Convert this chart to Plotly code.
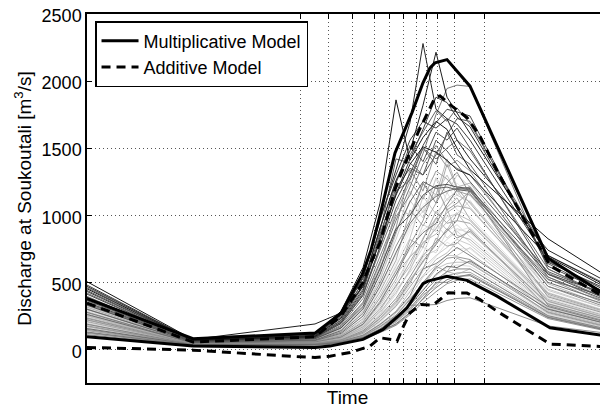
import plotly.graph_objects as go

# ---------------- data ----------------
# common time grid of the ensemble members (time units along the axis)
time_grid = [0, 106, 228, 254, 276, 293, 309, 323, 336, 349, 360, 370, 383, 461, 521]

# ensemble members: discharge [m3/s] at each time of time_grid
ensemble = [
    [505, 74, 112, 285, 610, 1090, 1860, 1410, 1580, 1700, 1640, 1500, 1340, 825, 540],
    [470, 70, 102, 255, 530, 960, 1340, 1690, 2280, 1790, 1720, 1560, 1420, 740, 500],
    [452, 68, 96, 232, 478, 905, 1260, 1480, 1820, 2215, 1880, 1760, 1610, 700, 470],
    [432, 66, 91, 205, 436, 826, 1160, 1420, 1640, 1880, 1840, 1730, 1660, 650, 445],
    [412, 63, 87, 192, 402, 770, 1110, 1310, 1520, 1690, 1790, 1770, 1740, 620, 420],
    [396, 61, 82, 172, 352, 655, 960, 1210, 1460, 1750, 1945, 1970, 1960, 600, 380],
    [388, 75, 190, 272, 468, 805, 1150, 1380, 1510, 1470, 1410, 1340, 1300, 690, 455],
    [365, 62, 98, 240, 505, 880, 1420, 1390, 1300, 1560, 1480, 1380, 1250, 580, 400],
    [350, 60, 92, 215, 450, 840, 1240, 1520, 1400, 1620, 1560, 1650, 1500, 560, 370],
    [342, 58, 88, 200, 420, 760, 1180, 1260, 1500, 1380, 1620, 1450, 1380, 540, 360],
    [300, 52, 70, 140, 300, 560, 880, 1100, 1250, 1200, 1210, 1190, 1180, 520, 390],
    [330, 55, 80, 160, 320, 600, 900, 1000, 1150, 1220, 1230, 1210, 1200, 560, 410],
    [260, 50, 66, 120, 250, 470, 720, 940, 1060, 1140, 1180, 1200, 1190, 500, 350],
    [372, 58, 78, 158, 338, 610, 905, 1340, 1180, 1480, 1360, 1410, 1330, 525, 335],
    [355, 57, 74, 148, 310, 575, 1060, 1000, 1230, 1150, 1420, 1210, 1240, 490, 320],
    [345, 55, 72, 136, 286, 530, 820, 1110, 980, 1280, 1160, 1300, 1210, 440, 300],
    [335, 54, 69, 128, 268, 495, 770, 960, 1240, 1090, 1240, 1320, 1160, 470, 310],
    [322, 52, 66, 118, 246, 462, 730, 920, 1030, 1270, 1110, 1150, 1220, 425, 285],
    [315, 51, 64, 112, 228, 430, 665, 1040, 920, 1090, 1380, 1200, 1090, 410, 275],
    [305, 50, 62, 106, 214, 405, 620, 830, 1140, 1010, 1120, 1180, 1060, 400, 268],
    [298, 49, 60, 102, 204, 385, 585, 780, 960, 1220, 1040, 1090, 1180, 392, 262],
    [288, 48, 58, 97, 192, 360, 600, 740, 890, 960, 1170, 1040, 990, 382, 252],
    [280, 47, 57, 93, 184, 338, 525, 820, 760, 980, 1060, 1130, 970, 372, 245],
    [272, 46, 55, 89, 176, 322, 500, 690, 930, 880, 990, 1010, 1110, 365, 238],
    [264, 45, 53, 85, 168, 305, 470, 650, 820, 1030, 940, 960, 940, 358, 232],
    [256, 44, 51, 81, 160, 290, 452, 700, 770, 910, 1000, 880, 910, 350, 225],
    [248, 44, 50, 78, 152, 276, 425, 590, 800, 860, 950, 1020, 890, 342, 218],
    [240, 43, 48, 75, 146, 262, 445, 575, 710, 940, 830, 900, 870, 336, 212],
    [232, 42, 47, 72, 139, 250, 380, 540, 700, 800, 880, 960, 1200, 328, 206],
    [224, 41, 46, 70, 132, 236, 362, 520, 650, 790, 1050, 850, 820, 320, 200],
    [216, 41, 45, 68, 126, 222, 340, 485, 690, 740, 820, 880, 800, 312, 195],
    [208, 40, 44, 66, 120, 212, 322, 465, 600, 830, 770, 790, 900, 305, 190],
    [200, 39, 43, 64, 114, 200, 320, 440, 580, 690, 800, 750, 750, 298, 184],
    [192, 39, 42, 62, 108, 190, 285, 430, 550, 670, 720, 800, 720, 290, 178],
    [184, 38, 41, 60, 104, 180, 270, 392, 540, 630, 700, 700, 760, 282, 172],
    [176, 37, 40, 58, 100, 172, 256, 370, 500, 610, 680, 690, 670, 275, 166],
    [168, 36, 39, 56, 96, 164, 242, 350, 470, 600, 640, 650, 650, 268, 160],
    [160, 35, 38, 54, 92, 156, 230, 330, 450, 550, 610, 630, 620, 260, 155],
    [150, 34, 36, 52, 88, 148, 216, 310, 420, 520, 580, 600, 600, 252, 150],
    [140, 33, 35, 50, 84, 140, 204, 292, 400, 490, 550, 570, 575, 245, 145],
    [130, 32, 34, 48, 80, 132, 192, 275, 375, 460, 520, 545, 550, 238, 140],
    [120, 31, 33, 46, 76, 125, 180, 258, 350, 430, 490, 515, 525, 230, 135],
    [110, 30, 32, 44, 72, 150, 250, 330, 330, 335, 365, 380, 385, 175, 120],
    [480, 72, 105, 260, 540, 980, 1300, 1560, 1700, 1650, 1720, 1680, 1560, 660, 430],
    [440, 67, 93, 220, 470, 860, 1200, 1350, 1300, 1450, 1600, 1720, 1700, 640, 410],
    [420, 64, 88, 196, 410, 740, 1050, 1280, 1500, 1420, 1500, 1560, 1480, 600, 395],
    [380, 60, 84, 180, 380, 700, 990, 1150, 1380, 1520, 1400, 1350, 1300, 570, 375],
    [362, 58, 80, 166, 344, 640, 1020, 1250, 1120, 1330, 1270, 1180, 1150, 540, 350],
    [326, 53, 70, 130, 276, 520, 860, 1180, 1020, 1160, 1300, 1150, 1100, 450, 300],
    [310, 51, 65, 110, 236, 448, 700, 900, 1200, 1310, 1200, 1240, 1150, 415, 280],
    [294, 49, 61, 100, 200, 380, 640, 880, 1080, 1150, 1230, 1100, 1050, 395, 260],
    [276, 47, 56, 92, 188, 350, 560, 760, 870, 940, 1080, 1190, 1210, 470, 330],
    [252, 45, 52, 80, 156, 290, 480, 620, 830, 980, 890, 1010, 960, 360, 230],
    [236, 43, 48, 73, 142, 260, 410, 600, 760, 720, 880, 930, 840, 332, 212],
    [220, 41, 45, 69, 128, 230, 350, 500, 660, 780, 900, 830, 880, 340, 220],
    [204, 40, 44, 65, 118, 208, 330, 520, 610, 700, 760, 820, 780, 300, 186],
    [188, 38, 41, 61, 106, 186, 280, 400, 600, 640, 700, 760, 700, 320, 200],
    [172, 37, 40, 57, 98, 168, 250, 380, 480, 620, 580, 680, 640, 280, 170],
    [156, 35, 37, 53, 90, 152, 222, 330, 440, 560, 620, 610, 660, 300, 190],
    [144, 33, 36, 51, 86, 144, 210, 300, 410, 470, 580, 560, 600, 250, 150],
    [126, 32, 34, 47, 78, 128, 186, 270, 380, 500, 500, 540, 560, 240, 142],
    [460, 69, 100, 245, 500, 900, 1250, 1450, 1620, 1780, 1700, 1800, 1680, 700, 480],
    [236, 50, 60, 95, 190, 360, 560, 690, 790, 900, 1020, 1070, 1050, 420, 280],
]
# grey level of each member (0 = black, 255 = white)
ensemble_grey = [20, 40, 30, 60, 70, 120, 30, 90, 80, 100, 100, 80, 110,
                 150, 185, 205, 140, 220, 170, 200, 155, 225, 175, 210, 165,
                 230, 190, 215, 145, 180, 212, 168, 228, 188, 207, 152, 196,
                 220, 136, 164, 122, 150, 140,
                 60, 90, 110, 130, 160, 200, 235, 240, 125, 185, 218, 150,
                 205, 130, 170, 110, 190, 140, 100, 175]

# bounds of the two models
mult_upper_t = [0, 106, 228, 254, 275, 284, 293, 302, 308, 325, 336, 343, 348, 360, 383, 461, 521]
mult_upper_q = [378, 80, 122, 270, 555, 740, 1000, 1266, 1465, 1765, 1987, 2098, 2136, 2160, 1962, 680, 395]

mult_lower_t = [0, 106, 228, 243, 276, 296, 310, 320, 336, 341, 360, 380, 410, 463, 521]
mult_lower_q = [95, 25, 14, 25, 75, 149, 240, 310, 490, 509, 546, 515, 397, 161, 100]

add_upper_t = [0, 106, 228, 254, 276, 281, 293, 308, 313, 331, 348, 353, 365, 380, 393, 411, 463, 521]
add_upper_q = [345, 55, 95, 250, 500, 596, 797, 1192, 1291, 1616, 1877, 1890, 1813, 1729, 1589, 1318, 625, 375]

add_lower_t = [0, 106, 213, 228, 243, 263, 283, 293, 305, 310, 315, 323, 334, 346, 353, 361, 380, 393, 410, 463, 521]
add_lower_q = [15, -5, -55, -60, -50, -23, 25, 87, 74, 60, 150, 273, 335, 330, 372, 422, 420, 372, 285, 40, 20]

x_tick_times = [213.5, 241, 265, 287, 302, 316, 329, 339, 350, 367, 397]
y_tick_values = [0, 500, 1000, 1500, 2000, 2500]

# ---------------- figure ----------------
fig = go.Figure()

order = sorted(range(len(ensemble)), key=lambda i: -ensemble_grey[i])
for i in order:
    g = ensemble_grey[i]
    fig.add_trace(go.Scatter(
        x=time_grid, y=ensemble[i], mode="lines",
        line=dict(color=f"rgb({g},{g},{g})", width=1),
        showlegend=False, hoverinfo="skip"))

fig.add_trace(go.Scatter(x=mult_upper_t, y=mult_upper_q, mode="lines",
                         name="Multiplicative Model",
                         line=dict(color="black", width=3)))
fig.add_trace(go.Scatter(x=mult_lower_t, y=mult_lower_q, mode="lines",
                         name="Multiplicative Model", showlegend=False,
                         line=dict(color="black", width=3)))
fig.add_trace(go.Scatter(x=add_upper_t, y=add_upper_q, mode="lines",
                         name="Additive Model",
                         line=dict(color="black", width=3, dash="9px,6px")))
fig.add_trace(go.Scatter(x=add_lower_t, y=add_lower_q, mode="lines",
                         name="Additive Model", showlegend=False,
                         line=dict(color="black", width=3, dash="9px,6px")))

# The page body has an 8 px default margin: the figure is sized and its
# margins set so that the plot area lands where the reference has it.
font_family = "Liberation Sans, Arial, Helvetica, sans-serif"
fig.update_layout(
    width=600, height=408,
    margin=dict(l=79, r=0, t=6, b=33, autoexpand=False),
    plot_bgcolor="white", paper_bgcolor="white",
    font=dict(family=font_family, size=18, color="black"),
    legend=dict(x=0.0154, y=0.981, xanchor="left", yanchor="top",
                bordercolor="black", borderwidth=1.5, bgcolor="white",
                font=dict(size=18), tracegroupgap=0, itemwidth=37,
                traceorder="normal"),
)
fig.update_xaxes(
    range=[0, 521], tickvals=x_tick_times, showticklabels=False,
    ticks="inside", ticklen=5, tickcolor="black", tickwidth=1,
    showline=True, linecolor="black", linewidth=1.5, mirror="ticks",
    showgrid=True, gridcolor="#555555", griddash="1px,3px", gridwidth=1,
    zeroline=False, automargin=False,
    title=dict(text="Time", standoff=7, font=dict(size=19)),
)
fig.update_yaxes(
    range=[-250, 2500], tickvals=y_tick_values,
    ticks="inside", ticklen=5, tickcolor="black", tickwidth=1,
    showline=True, linecolor="black", linewidth=1.5, mirror=False,
    showgrid=True, gridcolor="#555555", griddash="1px,3px", gridwidth=1,
    zeroline=False, tickfont=dict(size=18), automargin=False,
    ticklabeloverflow="allow", ticklabelshift=2,
    title=dict(text="Discharge at Soukoutali [m<sup>3</sup>/s]", standoff=5, font=dict(size=19)),
)

fig.write_html("out.html")
